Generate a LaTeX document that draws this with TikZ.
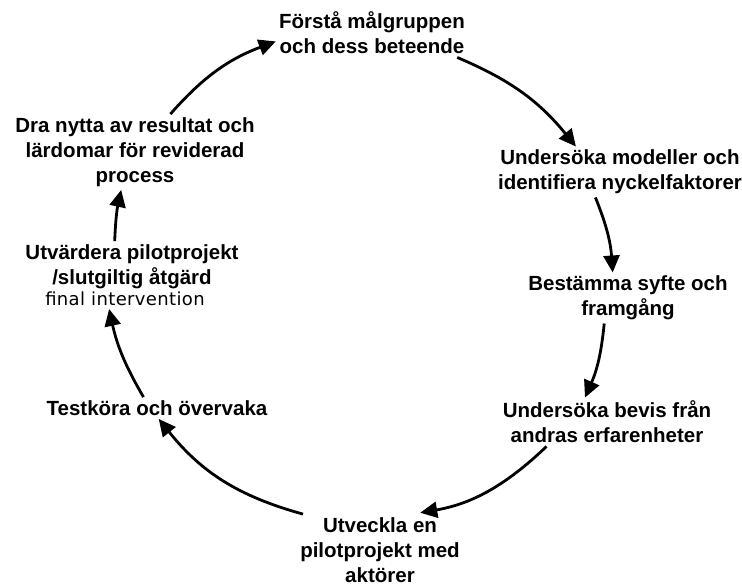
\documentclass[tikz,border=0pt]{standalone}
\usepackage{fontspec}
\setmainfont{Liberation Sans}
\newfontfamily\finalfont[LetterSpace=2]{DejaVu Sans}
\usetikzlibrary{arrows.meta}

\begin{document}
\begin{tikzpicture}[->,>={Triangle[length=17pt,width=16pt]},line width=2.8pt,
  x=1pt,y=-1pt,
  stage node/.style={font=\bfseries\fontsize{20.5}{25}\selectfont,
  align=center,inner sep=2pt}]
  \useasboundingbox (0,0) rectangle (742,587);

  \node[stage node] (forsta) at (372,33) {Förstå målgruppen\\och dess beteende};
  \node[stage node] (modeller) at (620,172) {Undersöka modeller och\\identifiera nyckelfaktorer};
  \node[stage node] (syfte) at (628,298) {Bestämma syfte och\\framgång};
  \node[stage node] (bevis) at (607,422) {Undersöka bevis från\\andras erfarenheter};
  \node[stage node] (utveckla) at (380,550) {Utveckla en\\pilotprojekt med\\aktörer};
  \node[stage node] (testkora) at (157,408) {Testköra och övervaka};
  \node[stage node] (utvardera) at (132,275) {Utvärdera pilotprojekt\\/slutgiltig åtgärd\\[-4pt]
    {\finalfont\mdseries\fontsize{18}{20}\selectfont\hspace*{-14pt}final intervention}};
  \node[stage node] (dra) at (135,152) {Dra nytta av resultat och\\lärdomar för reviderad\\process};

  \path
    (dra.47) edge [bend left=14] (forsta.185)
    (forsta.-16) edge [bend left=14] (modeller.150)
    (modeller.226) edge [bend left=9] (syfte.121)
    (syfte.227) edge [bend left=9] (bevis.132)
    (bevis.202) edge [bend left=17,shorten >=8pt] (utveckla.48)
    (utveckla.155) edge [bend left=18] (testkora.-81)
    (testkora.141) edge [bend left=9] (utvardera.236)
    (utvardera.117) edge [bend left=5] (dra.250);
\end{tikzpicture}
\end{document}
